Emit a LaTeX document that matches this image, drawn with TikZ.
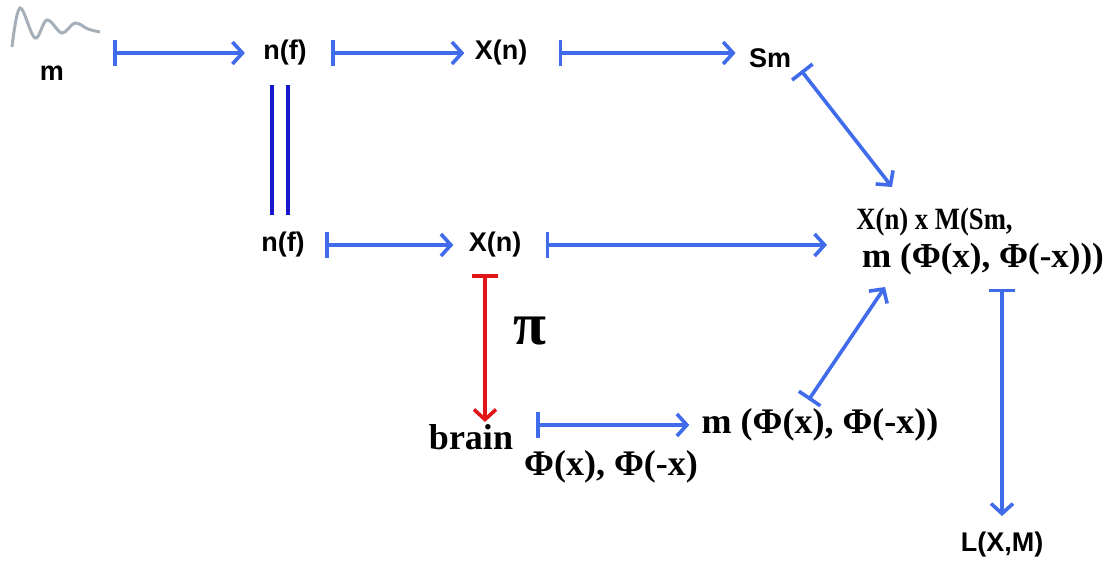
\documentclass[tikz,border=0pt]{standalone}
\usepackage{fontspec}
\setmainfont{Liberation Serif}
\setsansfont{Liberation Sans}
\usepackage{tikz}
\usetikzlibrary{arrows.meta,calc}
\definecolor{arrowblue}{RGB}{64,108,236}
\definecolor{pairblue}{RGB}{24,24,204}
\definecolor{arrowred}{RGB}{226,22,22}
\definecolor{wavegray}{RGB}{165,175,185}
\newcommand{\phiglyph}{Φ}
\tikzset{
  lbl/.style={font=\sffamily\bfseries\fontsize{13.5}{16}\selectfont, inner sep=0pt},
  tlbl/.style={font=\bfseries\fontsize{18}{20}\selectfont, inner sep=0pt},
  arr/.style={{Bar[width=13pt,line width=1.8pt]}-{Straight Barb[length=5pt,width=11pt,line width=1.8pt]}, line width=1.8pt, arrowblue},
  redarr/.style={arr, arrowred},
  pair/.style={double=white, double distance=6.4pt, line width=1.6pt, pairblue}
}

\begin{document}
\begin{tikzpicture}[x=0.5pt,y=-0.5pt]
\useasboundingbox (0,0) rectangle (1109,562);
\draw[wavegray, line width=1.5pt] plot[smooth, tension=0.6] coordinates {(12,47) (20,8) (35,38) (47,20) (62,33) (75,23) (88,29) (100,32)};
\node[lbl] (m) at (52,73) {m};
\coordinate (mout) at (113,53);
\node[lbl] (nf1) at (285,53) {n(f)};
\node[lbl] (xn1) at (501,53) {X(n)};
\node[lbl] (sm) at (770,58) {Sm};
\node[lbl] (nf2) at (283,245) {n(f)};
\node[lbl] (xn2) at (495,245) {X(n)};
\node[tlbl, font=\bfseries\fontsize{17.5}{19}\selectfont, anchor=west, align=left] (big) at (856,241)
  {\scalebox{0.86}[1]{\fontsize{15.5}{19}\selectfont X(n) x M(Sm,}\\\,m (\phiglyph(x), \phiglyph(-x)))};
\node[font=\bfseries\fontsize{30}{34}\selectfont, inner sep=0pt] (pi) at (530,331) {π};
\node[tlbl] (brain) at (471,437) {brain};
\node[tlbl] (phis) at (611,467) {\phiglyph(x), \phiglyph(-x)};
\node[tlbl] (mphi) at (820,425) {m (\phiglyph(x), \phiglyph(-x))};
\node[lbl] (lxm) at (1002,545) {L(X,M)};
\coordinate (bigin1) at (892,187);
\coordinate (bigin2) at (885,287);

\draw[arr, shorten >=9pt] (mout) -- (nf1.west);
\draw[arr, shorten <=12pt, shorten >=5pt] (nf1.east) -- (xn1.west);
\draw[arr, shorten <=15.5pt, shorten >=6.5pt] (xn1.east) -- (xn1.east -| sm.west);
\draw[arr, shorten <=8pt] (sm.east) -- (bigin1);
\draw[pair, shorten <=9.5pt, shorten >=8.5pt] ([xshift=-2.5pt]nf1.south) -- ([xshift=-2.5pt]nf1.south |- nf2.north);
\draw[arr, shorten <=10pt, shorten >=7.5pt] (nf2.east) -- (xn2.west);
\draw[arr, shorten <=12pt, shorten >=14.5pt] (xn2.east) -- (xn2.east -| big.west);
\draw[redarr, shorten <=8pt, shorten >=1pt] ([xshift=-5pt]xn2.south) -- ([xshift=-5pt]xn2.south |- brain.north);
\draw[arr, shorten <=11.5pt, shorten >=6pt] (brain.east |- mphi.west) -- (mphi.west);
\draw[arr, shorten <=5pt] ([xshift=-8.5pt]mphi.north) -- (bigin2);
\draw[arr, shorten <=7pt, shorten >=8pt] (lxm.north |- big.south) -- (lxm.north);
\end{tikzpicture}
\end{document}
